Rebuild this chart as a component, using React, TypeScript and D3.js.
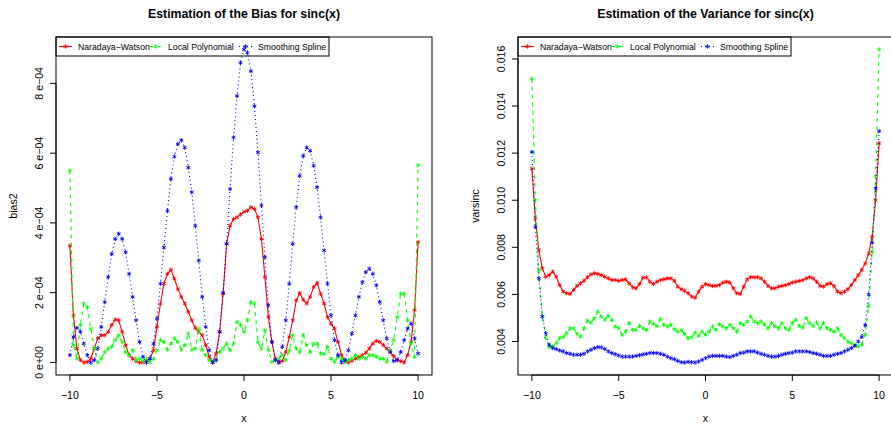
import React from "react";
import * as d3 from "d3";

// x grid: -10 to 10 by 0.2 (101 points)
const xs: number[] = d3.range(101).map((i) => +(-10 + i * 0.2).toFixed(1));

// Squared bias (units of 1e-4)
const biasNW = [
  3.35, 1.35, 0.4, 0.07, 0.0, 0.02, 0.11, 0.4, 0.69, 0.78, 0.78, 0.88, 1.07, 1.23, 1.21, 0.88, 0.5, 0.21, 0.11, 0.04,
  0.0, 0.0, 0.05, 0.11, 0.35, 1.02, 1.69, 2.26, 2.54, 2.66, 2.4, 2.11, 1.88, 1.69, 1.45, 1.21, 0.99, 0.88, 0.78, 0.5,
  0.16, 0.0, 0.26, 0.88, 1.97, 3.4, 3.92, 4.11, 4.16, 4.24, 4.32,
  4.35, 4.45, 4.4, 4.16, 3.54, 2.45, 1.3, 0.59, 0.11, 0.0, 0.04, 0.3, 0.73, 1.21, 1.78, 1.99, 1.8, 1.69, 1.88, 2.16,
  2.28, 1.97, 1.69, 1.3, 1.11, 0.97, 0.59, 0.21, 0.04, 0.0, 0.05, 0.11, 0.16, 0.21, 0.28, 0.4, 0.54, 0.62, 0.59, 0.5,
  0.4, 0.3, 0.18, 0.07, 0.04, 0.0, 0.21, 0.59, 1.5, 3.45,
];
const biasLP = [
  5.5, 0.5, 0.11, 1.07, 1.69, 1.59, 0.97, 0.4, 0.0, 0.11, 0.3, 0.4, 0.45, 0.64, 0.78, 0.59, 0.3, 0.21, 0.35, 0.07,
  0.11, 0.04, 0.11, 0.0, 0.11, 0.35, 0.64, 0.59, 0.37, 0.54, 0.69, 0.59, 0.37, 0.5, 0.83, 0.37, 0.4, 0.97, 0.35, 0.21,
  0.07, 0.02, 0.07, 0.3, 0.4, 0.54, 0.35, 0.55, 1.16, 1.07, 0.88,
  1.21, 1.73, 1.69, 0.59, 0.4, 0.92, 0.35, 0.02, 0.07, 0.11, 0.21, 0.07, 0.35, 0.78, 0.4, 0.3, 0.78, 0.5, 0.3, 0.54,
  0.54, 0.26, 0.24, 0.45, 0.11, 0.02, 0.16, 0.11, 0.0, 0.07, 0.11, 0.21, 0.11, 0.16, 0.11, 0.21, 0.21, 0.16, 0.11, 0.11,
  0.02, 0.35, 0.64, 1.3, 1.97, 1.97, 1.21, 0.54, 0.16, 5.65,
];
const biasSS = [
  0.21, 0.73, 0.99, 0.88, 0.54, 0.21, 0.0, 0.07, 0.4, 1.02, 1.73, 2.45, 3.11, 3.54, 3.69, 3.54, 3.16, 2.54, 1.88, 1.21,
  0.59, 0.16, 0.0, 0.11, 0.54, 1.26, 2.26, 3.3, 4.35, 5.26, 5.9, 6.26, 6.37, 6.16, 5.59, 4.88, 3.92, 2.92, 1.88, 1.02,
  0.35, 0.0, 0.07, 0.88, 2.0, 3.4, 4.97, 6.45, 7.64, 8.59, 8.97,
  8.88, 8.35, 7.35, 6.02, 4.5, 3.02, 1.64, 0.59, 0.07, 0.0, 0.45, 1.21, 2.26, 3.4, 4.45, 5.35, 5.92, 6.16, 6.07, 5.64,
  5.02, 4.16, 3.21, 2.26, 1.35, 0.64, 0.21, 0.0, 0.07, 0.35, 0.83, 1.35, 1.88, 2.3, 2.59, 2.69, 2.54, 2.21, 1.73, 1.21,
  0.69, 0.3, 0.04, 0.07, 0.3, 0.64, 0.97, 1.11, 0.69, 0.26,
];

// Variance (units of 1e-3)
const varNW = [
  11.34, 9.23, 7.88, 7.11, 6.75, 6.82, 6.97, 6.75, 6.4, 6.12, 6.05, 6.02, 6.19, 6.36, 6.47, 6.58, 6.73, 6.85, 6.9, 6.87,
  6.82, 6.75, 6.68, 6.61, 6.61, 6.58, 6.61, 6.64, 6.47, 6.3, 6.26, 6.44, 6.71, 6.73, 6.54, 6.44, 6.54, 6.61, 6.64, 6.68,
  6.68, 6.58, 6.33, 6.22, 6.16, 6.05, 5.91, 5.86, 6.12, 6.33, 6.44,
  6.4, 6.36, 6.36, 6.4, 6.5, 6.54, 6.51, 6.26, 6.05, 6.02, 6.33, 6.64, 6.73, 6.73, 6.73, 6.68, 6.54, 6.36, 6.26, 6.26,
  6.33, 6.36, 6.39, 6.44, 6.51, 6.54, 6.57, 6.61, 6.68, 6.73, 6.68, 6.54, 6.36, 6.33, 6.44, 6.47, 6.36, 6.12, 6.05, 6.12,
  6.22, 6.4, 6.61, 6.82, 7.04, 7.32, 7.74, 8.45, 10.0, 12.42,
];
const varLP = [
  15.16, 10.0, 7.04, 5.06, 4.14, 3.76, 3.79, 3.93, 4.14, 4.18, 4.35, 4.56, 4.56, 4.32, 4.21, 4.56, 4.89, 4.8, 4.99, 5.27,
  5.06, 4.92, 5.09, 4.92, 4.64, 4.56, 4.28, 4.42, 4.78, 4.49, 4.49, 4.66, 4.56, 4.49, 4.85, 4.75, 4.66, 4.95, 4.71, 4.64,
  4.71, 4.52, 4.42, 4.49, 4.32, 4.14, 4.18, 4.38, 4.24, 4.42, 4.28,
  4.42, 4.64, 4.49, 4.73, 4.64, 4.56, 4.71, 4.56, 4.42, 4.78, 4.71, 4.85, 5.06, 4.85, 4.78, 4.85, 4.71, 4.56, 4.78, 4.64,
  4.56, 4.78, 4.56, 4.49, 4.78, 4.92, 4.66, 4.59, 4.99, 4.78, 4.66, 4.81, 4.56, 4.78, 4.56, 4.49, 4.42, 4.56, 4.28, 4.14,
  4.0, 3.93, 3.86, 3.79, 3.86, 4.3, 5.5, 7.8, 11.0, 16.4,
];
const varSS = [
  12.05, 8.87, 6.68, 5.06, 4.35, 3.86, 3.72, 3.68, 3.62, 3.58, 3.51, 3.48, 3.44, 3.44, 3.44, 3.48, 3.58, 3.65, 3.72, 3.76,
  3.75, 3.68, 3.58, 3.51, 3.46, 3.41, 3.36, 3.36, 3.36, 3.36, 3.39, 3.42, 3.45, 3.48, 3.51, 3.51, 3.51, 3.48, 3.44, 3.36,
  3.29, 3.25, 3.18, 3.12, 3.11, 3.14, 3.12, 3.11, 3.15, 3.22, 3.29,
  3.36, 3.39, 3.39, 3.39, 3.39, 3.36, 3.34, 3.39, 3.44, 3.51, 3.53, 3.58, 3.58, 3.58, 3.53, 3.48, 3.44, 3.39, 3.36, 3.36,
  3.39, 3.44, 3.48, 3.51, 3.53, 3.58, 3.58, 3.58, 3.58, 3.55, 3.51, 3.48, 3.44, 3.39, 3.39, 3.39, 3.44, 3.48, 3.51, 3.58,
  3.65, 3.72, 3.82, 4.0, 4.2, 4.7, 6.0, 8.2, 10.5, 12.93,
];

const seriesNames = ["Naradaya\u2212Watson", "Local Polynomial", "Smoothing Spline"];
const seriesColors = ["#ff0000", "#00ff00", "#0000ff"];
const seriesDash = [null, "4,4", "1,3"];

const xTicks = [-10, -5, 0, 5, 10];
const biasTicks = [0, 2e-4, 4e-4, 6e-4, 8e-4];
const biasTickLabels = ["0 e+00", "2 e\u221204", "4 e\u221204", "6 e\u221204", "8 e\u221204"];
const varTicks = [0.004, 0.006, 0.008, 0.01, 0.012, 0.014, 0.016];
const varTickLabels = ["0.004", "0.006", "0.008", "0.010", "0.012", "0.014", "0.016"];

const FONT = "'Liberation Sans', Arial, Helvetica, sans-serif";

type PanelProps = {
  left: number;
  right: number;
  title: string;
  ylab: string;
  data: number[][];
  yTicks: number[];
  yTickLabels: string[];
};

function Star({ x, y, color }: { x: number; y: number; color: string }) {
  const r = 2.2;
  const a = r * Math.cos(Math.PI / 6);
  const b = r * Math.sin(Math.PI / 6);
  return (
    <path
      d={`M${x},${y - r}L${x},${y + r}M${x - a},${y - b}L${x + a},${y + b}M${x - a},${y + b}L${x + a},${y - b}`}
      stroke={color}
      strokeWidth={0.9}
      fill="none"
    />
  );
}

function Panel({ left, right, title, ylab, data, yTicks, yTickLabels }: PanelProps) {
  const top = 37;
  const bottom = 375;
  const xExt = [-10, 10];
  const xPad = (xExt[1] - xExt[0]) * 0.04;
  const x = d3.scaleLinear().domain([xExt[0] - xPad, xExt[1] + xPad]).range([left, right]);
  const all = data.flat();
  const yMin = d3.min(all) as number;
  const yMax = d3.max(all) as number;
  const yPad = (yMax - yMin) * 0.04;
  const y = d3.scaleLinear().domain([yMin - yPad, yMax + yPad]).range([bottom, top]);
  const line = d3
    .line<number>()
    .x((_, i) => x(xs[i]))
    .y((d) => y(d));
  const cx = (left + right) / 2;
  const cy = (top + bottom) / 2;
  const legW = 273;
  const legH = 19;
  return (
    <g fontFamily={FONT}>
      <text x={cx} y={17.5} textAnchor="middle" fontWeight="bold" fontSize={12.3} fill="#000">
        {title}
      </text>
      {/* series */}
      {data.map((s, k) => (
        <g key={k}>
          <path
            d={line(s) || ""}
            fill="none"
            stroke={seriesColors[k]}
            strokeWidth={1.1}
            strokeDasharray={seriesDash[k] || undefined}
          />
          {s.map((v, i) => (
            <Star key={i} x={x(xs[i])} y={y(v)} color={seriesColors[k]} />
          ))}
        </g>
      ))}
      {/* box */}
      <rect x={left} y={top} width={right - left} height={bottom - top} fill="none" stroke="#000" strokeWidth={1} />
      {/* x axis */}
      <line x1={x(xTicks[0])} x2={x(xTicks[xTicks.length - 1])} y1={bottom} y2={bottom} stroke="#000" />
      {xTicks.map((t) => (
        <g key={t}>
          <line x1={x(t)} x2={x(t)} y1={bottom} y2={bottom + 6} stroke="#000" />
          <text x={x(t)} y={398.5} textAnchor="middle" fontSize={10.6} fill="#000">
            {t < 0 ? "\u2212" + Math.abs(t) : String(t)}
          </text>
        </g>
      ))}
      {/* y axis */}
      <line x1={left} x2={left} y1={y(yTicks[0])} y2={y(yTicks[yTicks.length - 1])} stroke="#000" />
      {yTicks.map((t, i) => (
        <g key={t}>
          <line x1={left - 6} x2={left} y1={y(t)} y2={y(t)} stroke="#000" />
          <text
            transform={`translate(${left - 13.5},${y(t)}) rotate(-90)`}
            textAnchor="middle"
            fontSize={10.6}
            fill="#000"
          >
            {yTickLabels[i]}
          </text>
        </g>
      ))}
      <text x={cx} y={422} textAnchor="middle" fontSize={10.6} fill="#000">
        x
      </text>
      <text transform={`translate(${left - 39.5},${cy}) rotate(-90)`} textAnchor="middle" fontSize={10.6} fill="#000">
        {ylab}
      </text>
      {/* legend (transparent background) */}
      <rect x={left} y={top} width={legW} height={legH} fill="none" stroke="#000" strokeWidth={1} />
      {seriesNames.map((n, k) => {
        const lx = left + 3 + k * 90;
        const ly = top + 9.5;
        return (
          <g key={n}>
            <line
              x1={lx}
              x2={lx + 13}
              y1={ly}
              y2={ly}
              stroke={seriesColors[k]}
              strokeWidth={1.1}
              strokeDasharray={seriesDash[k] || undefined}
            />
            <Star x={lx + 6.5} y={ly} color={seriesColors[k]} />
            <text x={lx + 19} y={ly + 3.1} fontSize={8.7} fill="#000">
              {n}
            </text>
          </g>
        );
      })}
    </g>
  );
}

export default function App() {
  const biasData = [biasNW, biasLP, biasSS].map((s) => s.map((v) => v * 1e-4));
  const varData = [varNW, varLP, varSS].map((s) => s.map((v) => v * 1e-3));
  return (
    <svg
      width={891}
      height={427}
      style={{ position: "absolute", left: 0, top: 0, background: "#fff" }}
      xmlns="http://www.w3.org/2000/svg"
    >
      <rect x={0} y={0} width={891} height={427} fill="#fff" />
      <Panel
        left={56}
        right={432}
        title="Estimation of the Bias for sinc(x)"
        ylab="bias2"
        data={biasData}
        yTicks={biasTicks}
        yTickLabels={biasTickLabels}
      />
      <Panel
        left={518}
        right={893}
        title="Estimation of the Variance for sinc(x)"
        ylab="varsinc"
        data={varData}
        yTicks={varTicks}
        yTickLabels={varTickLabels}
      />
    </svg>
  );
}
